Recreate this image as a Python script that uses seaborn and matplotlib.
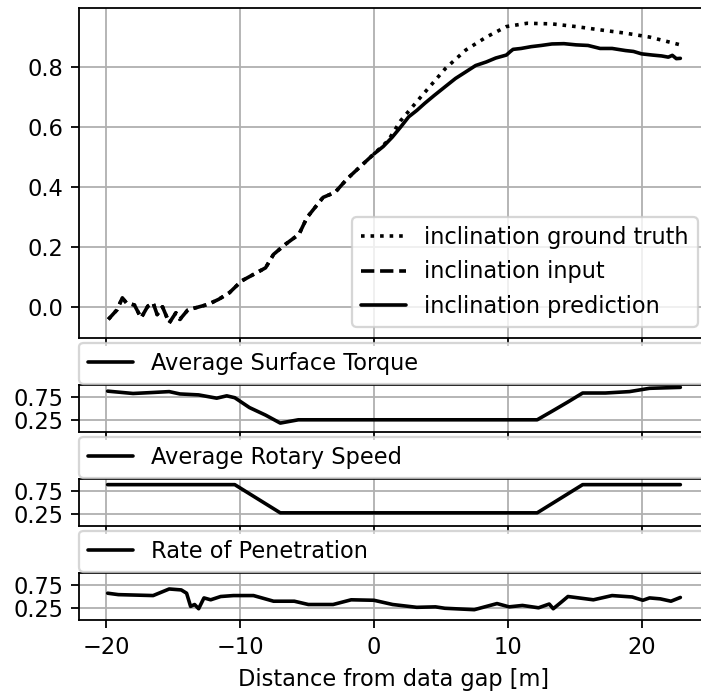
import matplotlib
matplotlib.use("Agg")
import matplotlib.pyplot as plt
import seaborn as sns

# ---------------- data ----------------
input_x = [-19.85, -19.2, -18.8, -18.5, -17.9, -17.4, -16.9, -16.5, -16.2, -15.8,
           -15.3, -14.8, -14.5, -13.9, -13.3, -12.4, -11.6, -10.8, -9.9, -9.0,
           -8.1, -7.5, -6.6, -5.6, -5.0, -3.8, -2.9, -2.0, -0.8, 0.0]
input_y = [-0.042, -0.01, 0.03, 0.013, 0.006, -0.037, 0.002, 0.013, -0.026, 0.0,
           -0.054, -0.02, -0.042, -0.01, -0.003, 0.008, 0.025, 0.047, 0.086, 0.108,
           0.13, 0.175, 0.209, 0.242, 0.298, 0.365, 0.382, 0.427, 0.477, 0.51]

truth_x = [0.0, 1.07, 1.98, 3.5, 5.34, 6.87, 8.4, 9.9, 11.45, 13.3, 15.1, 16.9,
           18.8, 20.6, 22.9]
truth_y = [0.51, 0.555, 0.62, 0.70, 0.795, 0.857, 0.90, 0.935, 0.946, 0.944,
           0.935, 0.924, 0.913, 0.90, 0.874]

pred_x = [0.0, 0.7, 1.37, 2.0, 2.6, 3.2, 3.8, 4.5, 5.34, 6.1, 6.87, 7.6, 8.4,
          9.1, 9.9, 10.2, 10.4, 11.0, 11.75, 12.5, 13.3, 14.2, 15.1, 16.0,
          16.9, 17.8, 18.8, 19.4, 20.0, 20.8, 21.5, 22.0, 22.3, 22.6, 22.9]
pred_y = [0.51, 0.535, 0.566, 0.60, 0.634, 0.655, 0.679, 0.705, 0.735, 0.762,
          0.784, 0.805, 0.817, 0.830, 0.840, 0.852, 0.859, 0.862, 0.868, 0.872,
          0.877, 0.878, 0.874, 0.872, 0.862, 0.862, 0.855, 0.852, 0.844, 0.840,
          0.837, 0.833, 0.839, 0.828, 0.829]

torque_x = [-19.9, -18.0, -16.6, -15.3, -14.5, -13.1, -11.75, -11.0, -10.4, -9.3,
            -8.1, -7.0, -5.65, 12.2, 13.3, 14.5, 15.6, 17.3, 19.1, 20.6, 22.9]
torque_y = [0.87, 0.82, 0.84, 0.86, 0.81, 0.79, 0.72, 0.77, 0.73, 0.52,
            0.36, 0.19, 0.26, 0.26, 0.44, 0.64, 0.83, 0.83, 0.86, 0.93, 0.95]

speed_x = [-19.9, -10.4, -7.0, 12.2, 15.6, 22.9]
speed_y = [0.88, 0.88, 0.28, 0.28, 0.88, 0.88]

rop_x = [-19.9, -19.1, -16.5, -15.3, -14.4, -14.0, -13.7, -13.4, -13.1, -12.7,
         -12.2, -11.45, -10.5, -9.0, -7.5, -5.95, -4.9, -3.05, -1.7, 0.0,
         1.4, 3.2, 4.6, 5.3, 7.5, 9.2, 10.1, 11.1, 12.3, 13.1,
         13.4, 14.0, 14.5, 16.4, 17.8, 19.3, 20.1, 20.6, 21.4, 22.2, 22.9]
rop_y = [0.57, 0.54, 0.52, 0.66, 0.64, 0.57, 0.29, 0.33, 0.24, 0.47,
         0.43, 0.50, 0.52, 0.52, 0.40, 0.40, 0.33, 0.33, 0.43, 0.42,
         0.33, 0.27, 0.28, 0.25, 0.22, 0.35, 0.28, 0.31, 0.26, 0.34,
         0.24, 0.38, 0.50, 0.43, 0.52, 0.49, 0.42, 0.47, 0.45, 0.40, 0.48]

x_ticks = [-20, -10, 0, 10, 20]
main_yticks = [0.0, 0.2, 0.4, 0.6, 0.8]
small_yticks = [0.25, 0.75]

# ---------------- style ----------------
sns.set_style("whitegrid", {
    "axes.edgecolor": "black",
    "axes.labelcolor": "black",
    "grid.color": "#b0b0b0",
    "xtick.bottom": True,
    "ytick.left": True,
    "xtick.color": "black",
    "ytick.color": "black",
    "text.color": "black",
})
plt.rcParams.update({
    "font.family": ["DejaVu Sans"],
    "font.size": 10,
    "xtick.labelsize": 10,
    "ytick.labelsize": 10,
    "legend.fontsize": 10,
    "axes.labelsize": 10,
    "axes.linewidth": 0.8,
    "grid.linewidth": 0.8,
    "xtick.major.size": 3.5,
    "ytick.major.size": 3.5,
    "xtick.major.width": 0.8,
    "ytick.major.width": 0.8,
    "xtick.major.pad": 3.5,
    "ytick.major.pad": 3.5,
})

DPI = 162
fig = plt.figure(figsize=(701 / DPI, 691 / DPI), dpi=DPI)
L, R = 0.1127, 1.0114
W = R - L
ax0 = fig.add_axes([L, 0.5109, W, 0.988 - 0.5109])
ax1 = fig.add_axes([L, 0.3748, W, 0.4428 - 0.3748], sharex=ax0)
ax2 = fig.add_axes([L, 0.2388, W, 0.3068 - 0.2388], sharex=ax0)
ax3 = fig.add_axes([L, 0.1027, W, 0.1708 - 0.1027], sharex=ax0)

lw = 1.6
gt_x = input_x[:-1] + truth_x
gt_y = input_y[:-1] + truth_y
sns.lineplot(x=gt_x, y=gt_y, ax=ax0, color="black", linestyle=":", lw=lw,
             label="inclination ground truth", sort=False)
sns.lineplot(x=input_x, y=input_y, ax=ax0, color="black", linestyle="--", lw=lw,
             label="inclination input", sort=False)
sns.lineplot(x=pred_x, y=pred_y, ax=ax0, color="black", linestyle="-", lw=lw,
             label="inclination prediction", sort=False)
ax0.legend(loc="lower right")
ax0.set_yticks(main_yticks)

for ax, xs, ys, lab in [(ax1, torque_x, torque_y, "Average Surface Torque"),
                        (ax2, speed_x, speed_y, "Average Rotary Speed"),
                        (ax3, rop_x, rop_y, "Rate of Penetration")]:
    sns.lineplot(x=xs, y=ys, ax=ax, color="black", lw=lw, label=lab, sort=False)
    ax.set_ylim(0, 1)
    ax.set_yticks(small_yticks)
    ax.legend(loc="lower left", bbox_to_anchor=(0, 1.03, 1, 0.2), mode="expand",
              borderaxespad=0)

ax0.set_xticks(x_ticks)
for ax in (ax0, ax1, ax2):
    ax.tick_params(labelbottom=False)
ax3.set_xlabel("Distance from data gap [m]")

fig.savefig("out.png", dpi=DPI)
